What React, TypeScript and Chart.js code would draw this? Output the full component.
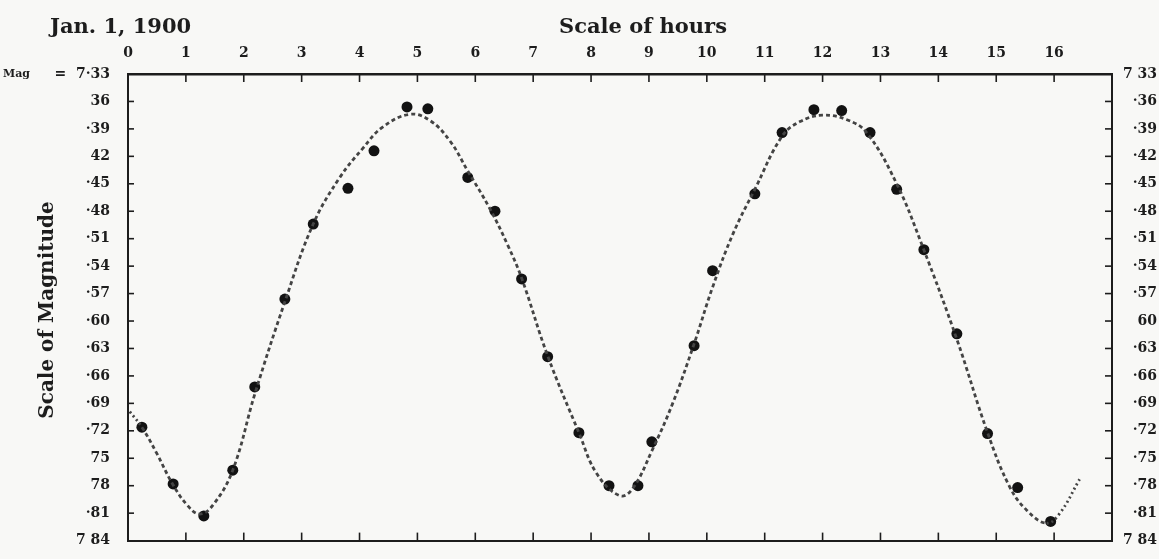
import React, { useEffect, useRef } from "react";
import { Chart, registerables } from "chart.js";

Chart.register(...registerables);

// ---- data ----
const titleText = "Jan. 1, 1900";
const xTitleText = "Scale of hours";
const yTitleText = "Scale of Magnitude";
const magPrefix = "Mag";

const hourTicks = [0, 1, 2, 3, 4, 5, 6, 7, 8, 9, 10, 11, 12, 13, 14, 15, 16];
const hourLabels = ["0", "1", "2", "3", "4", "5", "6", "7", "8", "9", "10", "11", "12", "13", "14", "15", "16"];

const magTicks = [7.33, 7.36, 7.39, 7.42, 7.45, 7.48, 7.51, 7.54, 7.57, 7.6, 7.63, 7.66, 7.69, 7.72, 7.75, 7.78, 7.81, 7.84];
const leftMagLabels = ["=  7·33", "36", "·39", "42", "·45", "·48", "·51", "·54", "·57", "·60", "·63", "·66", "·69", "·72", "75", "78", "·81", "7 84"];
const rightMagLabels = ["7 33", "·36", "·39", "·42", "·45", "·48", "·51", "·54", "·57", "60", "·63", "·66", "·69", "·72", "·75", "·78", "·81", "7 84"];

const obsHours = [0.24, 0.78, 1.31, 1.81, 2.19, 2.71, 3.2, 3.8, 4.25, 4.82, 5.18, 5.87, 6.34, 6.8, 7.25, 7.79, 8.31, 8.81, 9.05, 9.78, 10.1, 10.83, 11.3, 11.85, 12.33, 12.82, 13.28, 13.75, 14.32, 14.85, 15.37, 15.94];
const obsMags = [7.716, 7.778, 7.813, 7.763, 7.672, 7.576, 7.494, 7.455, 7.414, 7.366, 7.368, 7.443, 7.48, 7.554, 7.639, 7.722, 7.78, 7.78, 7.732, 7.627, 7.545, 7.461, 7.394, 7.369, 7.37, 7.394, 7.456, 7.522, 7.614, 7.723, 7.782, 7.819];

const curveHours = [0.03, 0.24, 0.5, 0.76, 1.02, 1.24, 1.47, 1.81, 2.19, 2.71, 3.2, 3.66, 4.06, 4.4, 4.87, 5.22, 5.56, 5.87, 6.25, 6.56, 6.8, 7.25, 7.79, 8.1, 8.5, 8.72, 9.05, 9.41, 9.78, 10.1, 10.45, 10.83, 11.3, 11.61, 12.0, 12.42, 12.76, 13.28, 13.73, 14.32, 14.85, 15.23, 15.53, 15.87, 16.1, 16.44];
const curveMags = [7.699, 7.716, 7.745, 7.777, 7.801, 7.811, 7.801, 7.763, 7.68, 7.579, 7.494, 7.443, 7.411, 7.388, 7.374, 7.381, 7.403, 7.436, 7.477, 7.517, 7.553, 7.638, 7.722, 7.767, 7.791, 7.783, 7.742, 7.69, 7.625, 7.563, 7.505, 7.456, 7.398, 7.382, 7.375, 7.38, 7.394, 7.45, 7.519, 7.62, 7.722, 7.781, 7.807, 7.821, 7.81, 7.773];

// ---- styling ----
const INK = "#1d1d1d";
const PAPER = "#f8f8f6";
const tickFont = { family: "'DejaVu Serif', serif", size: 14, weight: "bold" as const };

const paperPlugin = {
  id: "paper",
  beforeDraw(chart: any) {
    const { ctx, width, height } = chart;
    ctx.save();
    ctx.fillStyle = PAPER;
    ctx.fillRect(0, 0, width, height);
    ctx.restore();
  },
  afterDraw(chart: any) {
    const { ctx, chartArea: a, scales } = chart;
    ctx.save();
    ctx.strokeStyle = INK;
    ctx.lineWidth = 1.6;
    const line = (x1: number, y1: number, x2: number, y2: number) => {
      ctx.beginPath();
      ctx.moveTo(x1, y1);
      ctx.lineTo(x2, y2);
      ctx.stroke();
    };
    hourTicks.forEach((h) => {
      if (h === 0) return;
      const x = scales.x.getPixelForValue(h);
      line(x, a.top, x, a.top + 8);
      line(x, a.bottom, x, a.bottom - 8);
    });
    magTicks.slice(1, -1).forEach((m) => {
      const y = scales.y.getPixelForValue(m);
      line(a.left, y, a.left + 6, y);
      line(a.right, y, a.right - 7, y);
    });
    ctx.fillStyle = INK;
    ctx.font = "bold 11px 'DejaVu Serif', serif";
    ctx.textAlign = "left";
    ctx.textBaseline = "middle";
    ctx.fillText(magPrefix, 3, scales.y.getPixelForValue(magTicks[0]));

    ctx.font = "bold 21px 'DejaVu Serif', serif";
    ctx.textBaseline = "alphabetic";
    ctx.textAlign = "left";
    ctx.fillText(titleText, 50, 33);
    ctx.textAlign = "center";
    ctx.fillText(xTitleText, 643, 33);
    ctx.save();
    ctx.font = "bold 20px 'DejaVu Serif', serif";
    ctx.translate(53, 310);
    ctx.rotate(-Math.PI / 2);
    ctx.fillText(yTitleText, 0, 0);
    ctx.restore();
    ctx.restore();
  },
};

export default function App() {
  const canvasRef = useRef<HTMLCanvasElement | null>(null);

  useEffect(() => {
    if (!canvasRef.current) return;
    const curveData = curveHours.map((h, i) => ({ x: h, y: curveMags[i] }));
    const obsData = obsHours.map((h, i) => ({ x: h, y: obsMags[i] }));
    const border = { display: true, color: INK, width: 2 };

    const chart = new Chart(canvasRef.current, {
      type: "scatter",
      data: {
        datasets: [
          {
            label: "curve",
            data: curveData,
            showLine: true,
            borderColor: "#444444",
            borderWidth: 2.8,
            borderDash: [4, 3],
            tension: 0.4,
            pointRadius: 0,
            xAxisID: "x",
            yAxisID: "y",
            segment: {
              borderDash: (ctx: any) =>
                ctx.p0.parsed.x < 0.2 || ctx.p0.parsed.x >= 15.87 ? [2, 3] : [4, 3],
            },
          } as any,
          {
            label: "observed",
            data: obsData,
            showLine: false,
            pointRadius: 5.5,
            pointBackgroundColor: "#121212",
            pointBorderColor: "#121212",
            pointBorderWidth: 0,
            xAxisID: "x",
            yAxisID: "y",
          },
        ],
      },
      options: {
        animation: false,
        responsive: true,
        maintainAspectRatio: false,
        layout: { padding: { left: 0, top: 0, bottom: 0, right: 2 } },
        plugins: { legend: { display: false }, tooltip: { enabled: false }, title: { display: false } },
        scales: {
          x: {
            type: "linear",
            position: "top",
            min: 0,
            max: 17,
            afterBuildTicks: (s: any) => {
              s.ticks = hourTicks.map((v) => ({ value: v }));
            },
            afterFit: (s: any) => {
              s.height = 74;
            },
            grid: { display: false },
            border: { ...border, width: 2.5 },
            ticks: {
              autoSkip: false,
              maxRotation: 0,
              padding: 4,
              color: INK,
              font: tickFont,
              callback: (_v: any, i: number) => hourLabels[i],
            },
          },
          xb: {
            type: "linear",
            position: "bottom",
            min: 0,
            max: 17,
            afterFit: (s: any) => {
              s.height = 11;
            },
            grid: { display: false },
            border,
            ticks: { display: false },
          },
          y: {
            type: "linear",
            position: "left",
            reverse: true,
            min: 7.33,
            max: 7.84,
            afterBuildTicks: (s: any) => {
              s.ticks = magTicks.map((v) => ({ value: v }));
            },
            afterFit: (s: any) => {
              s.width = 128;
            },
            grid: { display: false },
            border,
            ticks: {
              autoSkip: false,
              padding: 10,
              color: INK,
              font: tickFont,
              callback: (_v: any, i: number) => leftMagLabels[i],
            },
          },
          y2: {
            type: "linear",
            position: "right",
            reverse: true,
            min: 7.33,
            max: 7.84,
            afterBuildTicks: (s: any) => {
              s.ticks = magTicks.map((v) => ({ value: v }));
            },
            afterFit: (s: any) => {
              s.width = 45;
            },
            grid: { display: false },
            border,
            ticks: {
              autoSkip: false,
              padding: 5,
              crossAlign: "far",
              color: INK,
              font: tickFont,
              callback: (_v: any, i: number) => rightMagLabels[i],
            },
          },
        },
      } as any,
      plugins: [paperPlugin],
    });
    return () => chart.destroy();
  }, []);

  return (
    <div style={{ position: "fixed", left: 0, top: 0, width: 1159, height: 559, background: PAPER }}>
      <canvas ref={canvasRef} />
    </div>
  );
}
